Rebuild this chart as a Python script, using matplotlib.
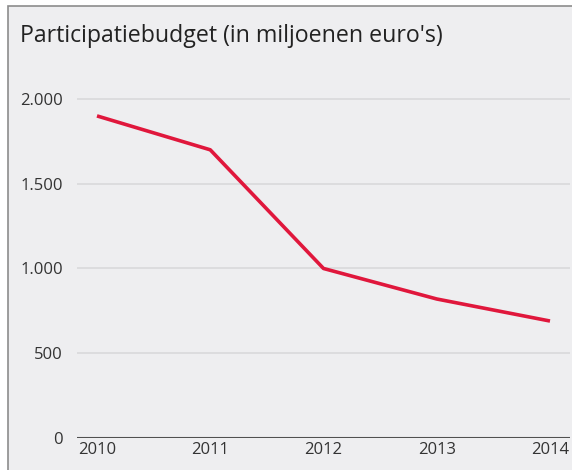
import matplotlib
matplotlib.use("Agg")
import matplotlib.pyplot as plt
from matplotlib.patches import Rectangle

# data
years = [2010, 2011, 2012, 2013, 2014]
budget = [1900, 1700, 1000, 820, 690]
y_ticks = [0, 500, 1000, 1500, 2000]
y_labels = ['0', '500', '1.000', '1.500', '2.000']
title = "Participatiebudget (in miljoenen euro's)"

plt.rcParams['font.family'] = ['Open Sans', 'DejaVu Sans']

W, H = 572, 470
fig = plt.figure(figsize=(W / 100, H / 100), dpi=100)
fig.patch.set_facecolor('white')

# grey panel with a border on the left and top
panel = Rectangle((8 / W, -0.1), 1.1, (H - 6) / H + 0.1, transform=fig.transFigure,
                  facecolor='#eeeef0', edgecolor='#8c8c8c', linewidth=1.2, zorder=-1)
fig.patches.append(panel)

fig.text(20 / W, (H - 42) / H, title, fontsize=16.7, color='#222222', va='baseline', ha='left')

ax = fig.add_axes([77 / W, (H - 438) / H, (570 - 77) / W, 356 / H])
ax.set_zorder(1)
ax.set_facecolor('none')
ax.plot(years, budget, color='#e0173c', linewidth=2.6, solid_capstyle='butt', zorder=3)

ax.set_xlim(2010 - 20 / 113.25, 2014 + 20 / 113.25)
ax.set_ylim(0, 2100)
ax.set_yticks(y_ticks)
ax.set_yticklabels(y_labels)
ax.set_xticks(years)
ax.set_xticklabels([str(y) for y in years])

for v in y_ticks[1:]:
    ax.axhline(v, color='#d9d9db', linewidth=1.2, zorder=1)
ax.axhline(0, color='#505050', linewidth=1.5, zorder=2)

for s in ax.spines.values():
    s.set_visible(False)
ax.tick_params(axis='both', length=0, labelsize=12, colors='#333333')
ax.tick_params(axis='y', pad=10)
ax.tick_params(axis='x', pad=3)

fig.savefig('out.png', dpi=100)
